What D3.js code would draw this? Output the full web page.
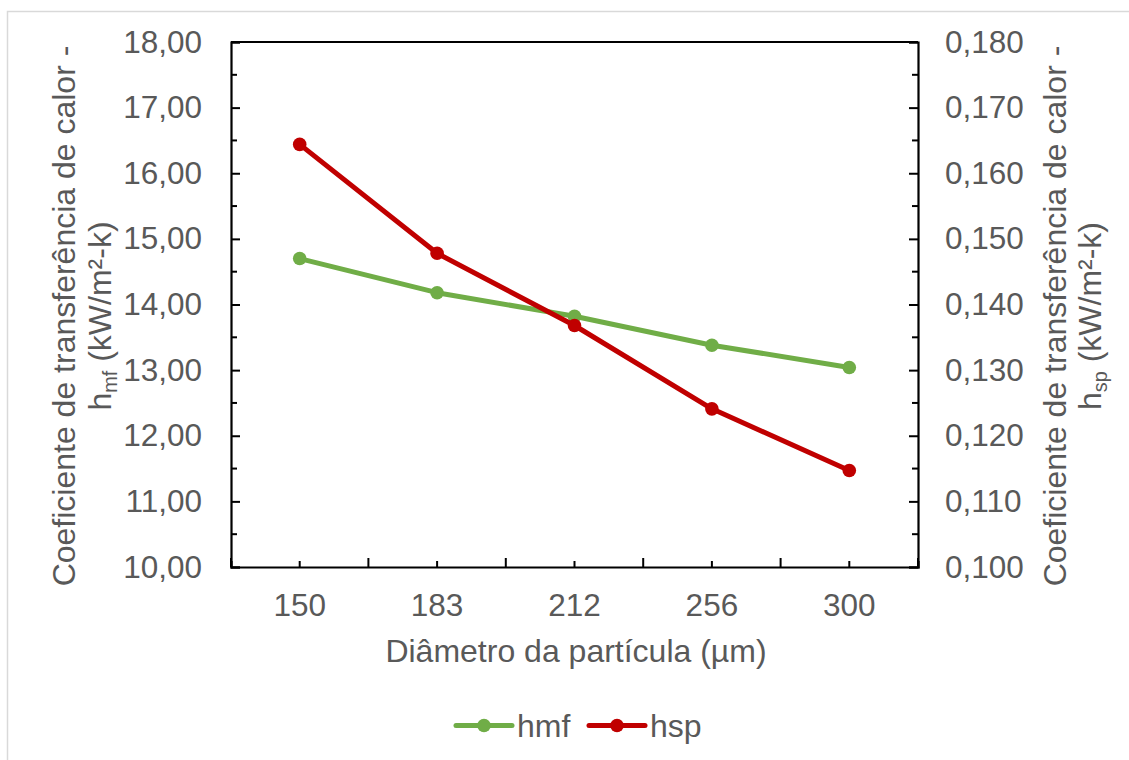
<!DOCTYPE html>
<html><head><meta charset="utf-8">
<script src="https://cdn.jsdelivr.net/npm/d3@7/dist/d3.min.js"></script>
<style>body{margin:0;background:#fff}text{font-family:"Liberation Sans",Arial,sans-serif;fill:#595959}</style>
</head><body><svg id="c" width="1129" height="760"></svg>
<script>
const categories = ["150", "183", "212", "256", "300"];
const hmf = [14.70, 14.18, 13.82, 13.38, 13.04];
const hsp = [0.1644, 0.1478, 0.1368, 0.1241, 0.1147];
const leftTicks = [10, 11, 12, 13, 14, 15, 16, 17, 18];
const rightTicks = [0.10, 0.11, 0.12, 0.13, 0.14, 0.15, 0.16, 0.17, 0.18];
const seriesNames = ["hmf", "hsp"];
const seriesColors = ["#70AD47", "#C00000"];

const svg = d3.select("#c");
const L = 231, R = 918, T = 42, B = 567;
const fs = 31.5;
const tfs = 32;
const loc = d3.formatLocale({decimal: ",", thousands: ".", grouping: [3], currency: ["", ""]});
const fL = loc.format(".2f"), fR = loc.format(".3f");

// outer border
svg.append("rect").attr("x", 7.5).attr("y", 11.5).attr("width", 1140).attr("height", 760)
  .attr("fill", "none").attr("stroke", "#d9d9d9").attr("stroke-width", 1.5);

const x = d3.scaleBand().domain(categories).range([L, R]).padding(0);
const yL = d3.scaleLinear().domain([10, 18]).range([B, T]);
const yR = d3.scaleLinear().domain([0.10, 0.18]).range([B, T]);

const g = svg.append("g");
// frame top
g.append("line").attr("x1", L).attr("x2", R).attr("y1", T).attr("y2", T).attr("stroke", "#000").attr("stroke-width", 2.2);

// left axis
const la = g.append("g").attr("transform", `translate(${L},0)`)
  .call(d3.axisLeft(yL).tickValues(leftTicks).tickFormat(fL).tickSize(-9).tickPadding(29));
const minorL = d3.range(10.5, 18, 1);
la.selectAll(".minor").data(minorL).enter().append("line").attr("class", "minor")
  .attr("x1", 0).attr("x2", 6).attr("y1", d => yL(d)).attr("y2", d => yL(d)).attr("stroke", "#000").attr("stroke-width", 2);

// right axis
const ra = g.append("g").attr("transform", `translate(${R},0)`)
  .call(d3.axisRight(yR).tickValues(rightTicks).tickFormat(fR).tickSize(-9).tickPadding(27));
const minorR = d3.range(0.105, 0.18, 0.01);
ra.selectAll(".minor").data(minorR).enter().append("line").attr("class", "minor")
  .attr("x1", 0).attr("x2", -6).attr("y1", d => yR(d)).attr("y2", d => yR(d)).attr("stroke", "#000").attr("stroke-width", 2);

// bottom axis
const ba = g.append("g").attr("transform", `translate(0,${B})`)
  .call(d3.axisBottom(x).tickSize(-6).tickPadding(27));
const bounds = [x.domain().map(d => x(d)), R].flat();
ba.selectAll(".major").data(bounds).enter().append("line").attr("class", "major")
  .attr("x1", d => d).attr("x2", d => d).attr("y1", 0).attr("y2", -9).attr("stroke", "#000").attr("stroke-width", 2);

[la, ra, ba].forEach(a => {
  a.select(".domain").attr("stroke", "#000").attr("stroke-width", 2.2);
  a.selectAll(".tick line").attr("stroke", "#000").attr("stroke-width", 2);
  a.selectAll(".tick text").attr("font-size", fs).attr("fill", "#595959")
    .attr("font-family", '"Liberation Sans",Arial,sans-serif');
});

// x title
svg.append("text").attr("x", 576).attr("y", 662).attr("text-anchor", "middle")
  .attr("font-size", tfs).text("Diâmetro da partícula (µm)");

// y titles
function yTitle(cx1, cx2, sub) {
  const yc = 316;
  svg.append("text").attr("transform", `translate(${cx1},${yc}) rotate(-90)`).attr("text-anchor", "middle")
    .attr("dy", "0.35em").attr("font-size", tfs).text("Coeficiente de transferência de calor -");
  const t = svg.append("text").attr("transform", `translate(${cx2},${yc}) rotate(-90)`).attr("text-anchor", "middle")
    .attr("dy", "0.35em").attr("font-size", tfs);
  t.append("tspan").text("h");
  t.append("tspan").attr("font-size", tfs * 0.62).attr("dy", tfs * 0.62 * 0.3).text(sub);
  t.append("tspan").attr("font-size", tfs).attr("dy", -tfs * 0.62 * 0.3).text(" (kW/m²-k)");
}
yTitle(64, 100, "mf");
yTitle(1055, 1090, "sp");

// series
const data = [hmf, hsp];
const scales = [yL, yR];
data.forEach((vals, i) => {
  const line = d3.line().x((d, j) => x(categories[j]) + x.bandwidth() / 2).y(d => scales[i](d));
  svg.append("path").attr("d", line(vals)).attr("fill", "none").attr("stroke", seriesColors[i])
    .attr("stroke-width", 5).attr("stroke-linejoin", "round").attr("stroke-linecap", "round");
  svg.selectAll(".pt" + i).data(vals).enter().append("circle")
    .attr("cx", (d, j) => x(categories[j]) + x.bandwidth() / 2).attr("cy", d => scales[i](d))
    .attr("r", 6.8).attr("fill", seriesColors[i]);
});

// legend
const legX = [456, 589];
seriesNames.forEach((n, i) => {
  const lg = svg.append("g").attr("transform", `translate(${legX[i]},725.5)`);
  lg.append("line").attr("x1", 0).attr("x2", 56).attr("stroke", seriesColors[i]).attr("stroke-width", 5).attr("stroke-linecap", "round");
  lg.append("circle").attr("cx", 28).attr("r", 6.8).attr("fill", seriesColors[i]);
  lg.append("text").attr("x", 61).attr("dy", "0.35em").attr("font-size", tfs).text(n);
});
</script></body></html>
